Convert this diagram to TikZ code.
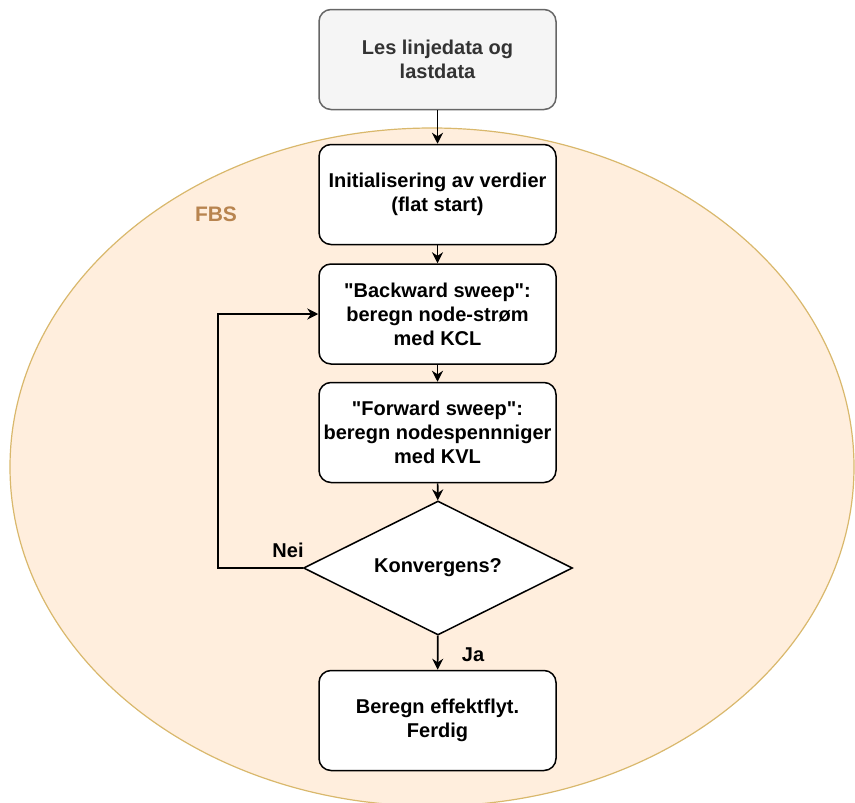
\documentclass[tikz,border=0pt]{standalone}
\usepackage{fontspec}
\setmainfont{Liberation Sans}
\usetikzlibrary{shapes.geometric,arrows.meta}
\definecolor{fbsfill}{HTML}{FFEEDD}
\definecolor{fbsline}{HTML}{D9B86C}
\definecolor{fbstext}{HTML}{B8844F}
\definecolor{startfill}{HTML}{F5F5F5}
\definecolor{startline}{HTML}{666666}
\definecolor{starttext}{HTML}{333333}
\tikzset{
  stepbox/.style={draw, line width=1.5pt, rounded corners=12pt, fill=white,
    minimum width=237pt, minimum height=100pt, align=center,
    font=\bfseries\fontsize{20}{24}\selectfont},
  startbox/.style={stepbox, fill=startfill, draw=startline, text=starttext},
  testbox/.style={draw, diamond, line width=1.5pt, fill=white, aspect=2,
    minimum width=269pt, minimum height=134pt, inner sep=0pt,
    font=\bfseries\fontsize{20}{24}\selectfont},
  edgelabel/.style={font=\bfseries\fontsize{20}{24}\selectfont}
}
\begin{document}
\begin{tikzpicture}[x=1pt,y=-1pt]
      \useasboundingbox (0,0) rectangle (855,803);
      \begin{scope}
        \clip (0,0) rectangle (855,803);
        \draw[fill=fbsfill, draw=fbsline, line width=1.2pt]
          (432,467) ellipse [x radius=422pt, y radius=339pt];
      \end{scope}
      \draw (216,214) node[font=\bfseries\fontsize{21}{24}\selectfont, text=fbstext] (fbs){FBS};
      \draw
        (437.5,59.5) node[startbox] (les){Les linjedata og\\lastdata}
        (437.5,194.5) node[stepbox] (init){Initialisering av verdier\\(flat start)}
        (437.5,314) node[stepbox] (back){\textquotedbl Backward sweep\textquotedbl:\\beregn node-strøm\\med KCL}
        (437.5,432.5) node[stepbox] (fwd){\textquotedbl Forward sweep\textquotedbl:\\beregn nodespennniger\\med KVL}
        (438,568) node[testbox] (konv){Konvergens?}
        (437.5,720.5) node[stepbox] (ferdig){Beregn effektflyt.\\Ferdig}
        (218,568) coordinate (loop)
        (288,550) node[edgelabel] (nei){Nei}
        (473,655) node[edgelabel] (ja){Ja};
      \begin{scope}[line width=1.6pt, -{Stealth[length=11pt,width=11pt]}]
        \draw (les) to (init);
        \draw (init) to (back);
        \draw (back) to (fwd);
        \draw (fwd) to (konv);
        \draw (konv) to (ferdig);
        \draw (konv.west) -- (loop) |- (back.west);
      \end{scope}
    \end{tikzpicture}
\end{document}
